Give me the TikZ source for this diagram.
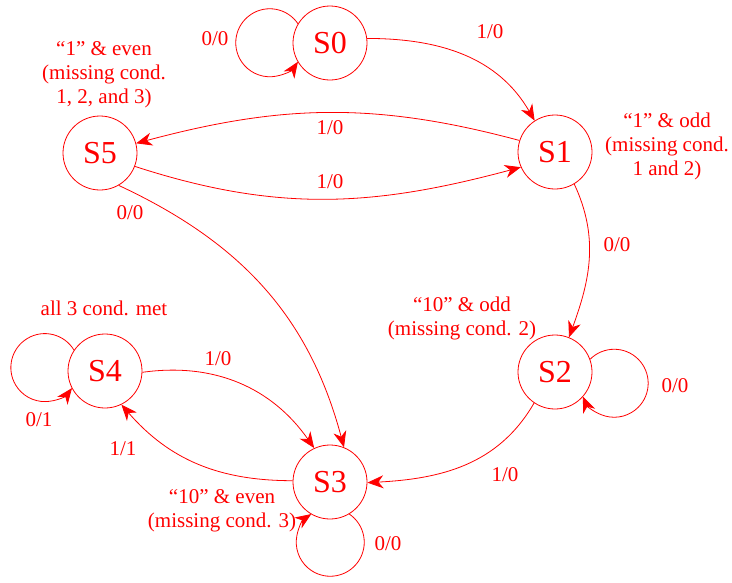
\documentclass[tikz,border=0pt]{standalone}
\usepackage{fontspec}
\setmainfont{Liberation Serif}
\usetikzlibrary{arrows.meta}

\begin{document}
\begin{tikzpicture}[x=1pt,y=1pt,
        circ/.style={draw=red, line width=0.8pt, circle, minimum size=74pt, inner sep=0pt, text=red, font=\fontsize{32}{36}\selectfont},
        lab/.style={text=red, font=\fontsize{21}{24}\selectfont, inner sep=1pt},
        note/.style={text=red, font=\fontsize{21}{24}\selectfont, align=center, inner sep=1pt},
        arr/.style={draw=red, line width=0.8pt, -{Stealth[length=16pt,width=13pt,inset=5pt]}}]
        \useasboundingbox (0,0) rectangle (732,-582);
        % states
        \node[circ] (s0) at (330,-43) {S0};
        \node[circ] (s1) at (555,-152) {S1};
        \node[circ] (s2) at (555,-372) {S2};
        \node[circ] (s3) at (330,-482) {S3};
        \node[circ] (s4) at (105,-371) {S4};
        \node[circ] (s5) at (100,-153) {S5};
        % transitions
        \draw[arr] (s0.7) to[out=0,in=120] (s1.123);
        \draw[arr] (s1.162) to[out=165,in=15] (s5.15);
        \draw[arr] (s5.-21) to[out=-18,in=195] (s1.204);
        \draw[arr] (s1.-59) to[out=-65,in=70] (s2.68);
        \draw[arr] (s5.-60) to[out=-25,in=105] (s3.68);
        \draw[arr] (s4.-2) to[out=8,in=125] (s3.115);
        \draw[arr] (s3.178) to[out=180,in=-49] (s4.-64);
        \draw[arr] (s2.-124) to[out=-120,in=3] (s3.-1);
        % self loops
        \draw[arr] (s0.149) arc[start angle=34, end angle=326, radius=34];
        \draw[arr] (s4.146) arc[start angle=31, end angle=323, radius=34];
        \draw[arr] (s2.20) arc[start angle=135, end angle=-157, radius=34];
        \draw[arr] (s3.-59) arc[start angle=56, end angle=-236, radius=34];
        % input/output labels
        \node[lab] (l01) at (490,-32) {1/0};
        \node[lab] (l15) at (330,-128) {1/0};
        \node[lab] (l51) at (330,-182) {1/0};
        \node[lab] (l12) at (617,-245) {0/0};
        \node[lab] (l53) at (130,-213) {0/0};
        \node[lab] (l43) at (218,-359) {1/0};
        \node[lab] (l34) at (123,-449) {1/1};
        \node[lab] (l23) at (505,-475) {1/0};
        \node[lab] (l00) at (215,-39) {0/0};
        \node[lab] (l44) at (39,-420) {0/1};
        \node[lab] (l22) at (675,-386) {0/0};
        \node[lab] (l33) at (388,-544) {0/0};
        % state meanings
        \node[note] (n5) at (104,-75) {“1” \& even\\(missing cond.\\1, 2, and 3)};
        \node[note] (n1) at (667,-146) {“1” \& odd\\(missing cond.\\1 and 2)};
        \node[note] (n2) at (462,-318) {“10” \& odd\\(missing cond. 2)};
        \node[note] (n4) at (104,-308) {all 3 cond. met};
        \node[note] (n3) at (222,-511) {“10” \& even\\(missing cond. 3)};
\end{tikzpicture}
\end{document}
